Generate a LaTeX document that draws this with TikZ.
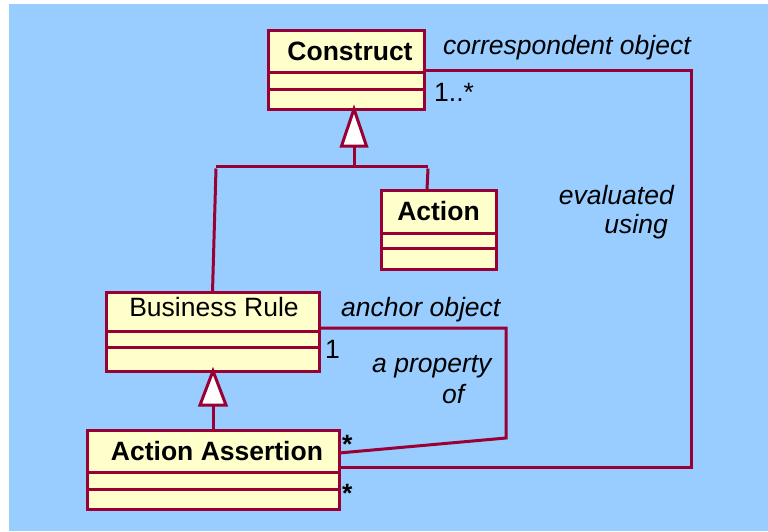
\documentclass[tikz,border=0pt]{standalone}
\usepackage{fontspec}
\setmainfont{Liberation Sans}
\definecolor{umlred}{RGB}{153,0,51}
\definecolor{umlfill}{RGB}{255,255,204}
\definecolor{bgblue}{RGB}{153,204,255}
\begin{document}
\begin{tikzpicture}[x=1pt,y=-1pt,
  umlline/.style={draw=umlred, line width=3pt},
  classhead/.style={umlline, fill=umlfill, inner sep=0pt, outer sep=0pt,
    anchor=north west, font=\fontsize{26.5}{30}\selectfont\bfseries},
  classpart/.style={umlline, fill=umlfill, inner sep=0pt, outer sep=0pt, anchor=north},
  assoc/.style={umlline, line join=miter},
  genhead/.style={umlline, fill=white, line join=miter},
  rolelbl/.style={inner sep=0pt, anchor=base west, font=\fontsize{26.5}{30}\selectfont\itshape},
  multlbl/.style={inner sep=0pt, anchor=base west, font=\fontsize{26.5}{30}\selectfont},
]
\useasboundingbox (0,0) rectangle (768,531);
\fill[bgblue] (9,4) rectangle (768,531);

% Construct
\node[classhead, minimum width=156pt, minimum height=42pt] (conshead) at (268,30) {\hspace*{8pt}Construct};
\node[classpart, minimum width=156pt, minimum height=17pt] (cons1) at (conshead.south) {};
\node[classpart, minimum width=156pt, minimum height=20pt] (cons2) at (cons1.south) {};

% Action
\node[classhead, minimum width=115pt, minimum height=43pt] (acthead) at (381,190) {Action};
\node[classpart, minimum width=115pt, minimum height=15pt] (act1) at (acthead.south) {};
\node[classpart, minimum width=115pt, minimum height=21pt] (act2) at (act1.south) {};

% Business Rule
\node[classhead, font=\fontsize{26.5}{30}\selectfont, text depth=9.6pt,
      minimum width=213pt, minimum height=39pt] (brhead) at (106,292) {\hspace*{3pt}Business Rule};
\node[classpart, minimum width=213pt, minimum height=16pt] (br1) at (brhead.south) {};
\node[classpart, minimum width=213pt, minimum height=24pt] (br2) at (br1.south) {};

% Action Assertion
\node[classhead, minimum width=252pt, minimum height=42pt] (aahead) at (87,430) {\hspace*{8pt}Action Assertion};
\node[classpart, minimum width=252pt, minimum height=17pt] (aa1) at (aahead.south) {};
\node[classpart, minimum width=252pt, minimum height=20pt] (aa2) at (aa1.south) {};

% Generalisation tree under Construct
\coordinate (gtop) at (354,146);
\coordinate (gjoin) at (354,166);
\coordinate (gleft) at (216,166);
\coordinate (gright) at (428,166);
\draw[umlline] (gleft) -- (gright);
\draw[umlline] (gjoin) -- (gtop);
\draw[genhead] (cons2.south -| gtop) -- ([xshift=-12.5pt]gtop) -- ([xshift=12.5pt]gtop) -- cycle;
\draw[umlline] ([yshift=-2.5pt]gleft) -- (brhead.north);
\draw[umlline] ([yshift=-2.5pt]gright) -- ([xshift=-11.5pt]acthead.north);

% Generalisation Action Assertion -> Business Rule
\coordinate (g2top) at (213,405);
\draw[umlline] (aahead.north -| g2top) -- (g2top);
\draw[genhead] (br2.south -| g2top) -- ([xshift=-13pt]g2top) -- ([xshift=13pt]g2top) -- cycle;

% Association: evaluated using
\coordinate (ecorner) at (691,467);
\draw[assoc] ([yshift=2pt]conshead.south east) -| (ecorner) -- ([yshift=5pt]aahead.south east);

% Association: a property of
\coordinate (acorner) at (506,438);
\draw[assoc] ([yshift=3pt]brhead.south east) -| (acorner) -- ([yshift=-2pt]aahead.east);

% Role names and multiplicities
\node[rolelbl] (rcorr) at (443,54) {correspondent object};
\node[multlbl] (mcons) at (434,101) {1..*};
\node[rolelbl, anchor=base east] (reval) at (674,204) {evaluated};
\node[rolelbl, anchor=base east] (rusing) at (668,233) {using};
\node[rolelbl] (ranchor) at (341,316) {anchor object};
\node[multlbl] (mbr) at (325,358) {1};
\node[rolelbl] (rprop) at (372,372) {a property};
\node[rolelbl] (rof) at (442,403) {of};
\node[multlbl, font=\fontsize{26.5}{30}\selectfont\bfseries] (maa1) at (342,453) {*};
\node[multlbl, font=\fontsize{26.5}{30}\selectfont\bfseries] (maa2) at (342,502) {*};
\end{tikzpicture}
\end{document}
